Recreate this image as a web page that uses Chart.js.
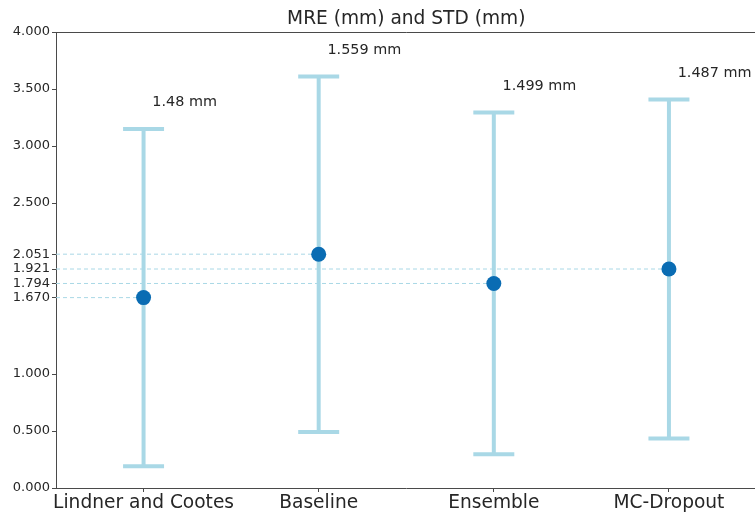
<!DOCTYPE html>
<html>
<head>
<meta charset="utf-8">
<script src="https://cdn.jsdelivr.net/npm/chart.js@4.4.1/dist/chart.umd.min.js"></script>
<style>
  html, body { margin: 0; padding: 0; background: #ffffff; overflow: hidden; }
  #wrap { width: 764px; height: 513px; }
</style>
</head>
<body>
<div id="wrap"><canvas id="chart" width="764" height="513"></canvas></div>
<script>
// Methods compared, mean radial error and its standard deviation (mm)
const categories = ['Lindner and Cootes', 'Baseline', 'Ensemble', 'MC-Dropout'];
const mre = [1.670, 2.051, 1.794, 1.921];
const std = [1.48, 1.559, 1.499, 1.487];
const yTicks = [0, 0.5, 1, 1.670, 1.794, 1.921, 2.051, 2.5, 3, 3.5, 4];
const titleText = 'MRE (mm) and STD (mm)';

const BAR_COLOR = '#a9d8e6';
const POINT_COLOR = '#0a6cb3';
const AXIS_COLOR = '#4a4a4a';
const TEXT_COLOR = '#262626';
const FONT = 'DejaVu Sans';
const CAP_HALF = 0.117;

const datasets = [];

// mean markers (lowest order is drawn on top)
datasets.push({
  type: 'scatter',
  order: 0,
  data: mre.map((m, i) => ({x: i, y: m})),
  backgroundColor: POINT_COLOR,
  borderWidth: 0,
  pointRadius: 7.5,
  pointHoverRadius: 7.5
});

// error bars: vertical stem plus top and bottom caps
mre.forEach((m, i) => {
  const lo = m - std[i];
  const hi = m + std[i];
  const style = { type: 'line', order: 1, borderColor: BAR_COLOR, borderWidth: 4, pointRadius: 0, showLine: true };
  datasets.push(Object.assign({ data: [{x: i, y: lo}, {x: i, y: hi}] }, style));
  datasets.push(Object.assign({ data: [{x: i - CAP_HALF, y: hi}, {x: i + CAP_HALF, y: hi}] }, style));
  datasets.push(Object.assign({ data: [{x: i - CAP_HALF, y: lo}, {x: i + CAP_HALF, y: lo}] }, style));
});

// dashed guide lines from the y axis to each mean
mre.forEach((m, i) => {
  datasets.push({
    type: 'line',
    order: 2,
    data: [{x: -0.5, y: m}, {x: i, y: m}],
    borderColor: BAR_COLOR,
    borderWidth: 1,
    borderDash: [4, 3],
    pointRadius: 0,
    showLine: true
  });
});

// title, top frame line and the std annotations above each bar
const decorations = {
  id: 'decorations',
  afterDatasetsDraw(chart) {
    const { ctx, chartArea, scales } = chart;
    ctx.save();
    ctx.strokeStyle = AXIS_COLOR;
    ctx.lineWidth = 1;
    ctx.beginPath();
    ctx.moveTo(chartArea.left, chartArea.top + 0.5);
    ctx.lineTo(chartArea.right, chartArea.top + 0.5);
    ctx.stroke();

    ctx.fillStyle = TEXT_COLOR;
    ctx.font = '18.6px "' + FONT + '"';
    ctx.textAlign = 'center';
    ctx.textBaseline = 'middle';
    ctx.fillText(titleText, (chartArea.left + chartArea.right) / 2, 19.5);

    ctx.font = '14.4px "' + FONT + '"';
    ctx.textAlign = 'left';
    std.forEach((s, i) => {
      const x = scales.x.getPixelForValue(i + 0.05);
      const y = scales.y.getPixelForValue(mre[i] + s + 0.23);
      ctx.fillText(s + ' mm', x, y);
    });
    ctx.restore();
  }
};

new Chart(document.getElementById('chart'), {
  data: { datasets },
  options: {
    responsive: false,
    animation: false,
    devicePixelRatio: 1,
    layout: { padding: { left: 0, right: 1.5, top: 32, bottom: 0 } },
    plugins: { legend: { display: false }, tooltip: { enabled: false }, title: { display: false } },
    scales: {
      x: {
        type: 'linear',
        min: -0.5,
        max: 3.5,
        afterBuildTicks(scale) { scale.ticks = categories.map((_, i) => ({ value: i })); },
        afterFit(scale) { scale.height = 25; },
        ticks: {
          callback: (v) => categories[v],
          color: TEXT_COLOR,
          font: { family: FONT, size: 18.6 },
          padding: 0,
          maxRotation: 0,
          autoSkip: false
        },
        grid: { drawOnChartArea: false, tickLength: 4, color: AXIS_COLOR },
        border: { display: true, color: AXIS_COLOR, width: 1 }
      },
      y: {
        type: 'linear',
        min: 0,
        max: 4,
        afterBuildTicks(scale) { scale.ticks = yTicks.map(v => ({ value: v })); },
        afterFit(scale) { scale.width = 56; },
        ticks: {
          callback: (v) => v.toFixed(3),
          color: TEXT_COLOR,
          font: { family: FONT, size: 13 },
          padding: 2,
          autoSkip: false
        },
        grid: { drawOnChartArea: false, tickLength: 4, color: AXIS_COLOR },
        border: { display: true, color: AXIS_COLOR, width: 1 }
      }
    }
  },
  plugins: [decorations]
});
</script>
</body>
</html>
